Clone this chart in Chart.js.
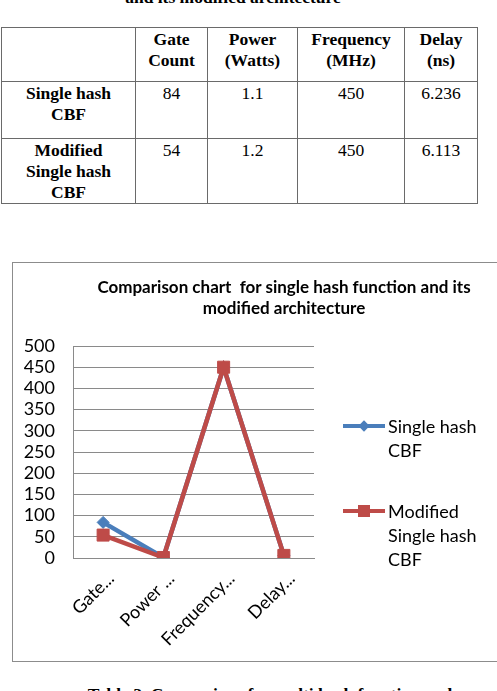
<!DOCTYPE html>
<html>
<head>
<meta charset="utf-8">
<script src="https://cdn.jsdelivr.net/npm/chart.js@4/dist/chart.umd.min.js"></script>
<style>
  html, body { margin: 0; padding: 0; background: #fff; overflow: hidden; }
  body { width: 497px; height: 691px; position: relative; font-family: "Liberation Serif", serif; }
  .caption { position: absolute; font-weight: bold; font-size: 17.5px; text-align: center; white-space: nowrap; }
  #topCaption { left: 0; width: 466px; top: -13px; }
  #bottomCaption { left: 40px; width: 460px; top: 684px; }
  #dataTable { position: absolute; left: 1px; top: 27px; width: 476px; table-layout: fixed; border-collapse: collapse; font-size: 17.5px; line-height: 21px; }
  #dataTable td, #dataTable th { border: 1.5px solid #6a6a6a; vertical-align: top; text-align: center; padding: 1px 6px 0 6px; }
  #dataTable th.rowHead { padding: 1px 11px 0 11px; }
  #dataTable th { font-weight: bold; }
  #dataTable td { font-weight: normal; }
  #chartBox { position: absolute; left: 12px; top: 262px; width: 495px; height: 400px; border: 1px solid #8c8c8c; box-sizing: border-box; }
  #chartCanvas { position: absolute; left: 12px; top: 262px; }
  #chartTitle { position: absolute; left: 89px; width: 390px; top: 276px; text-align: center; font-family: Lato, sans-serif; font-weight: bold; font-size: 17px; line-height: 21px; color: #000; }
  #legend { position: absolute; left: 343px; top: 0; font-family: Lato, sans-serif; font-size: 18px; line-height: 24px; color: #000; }
  .legItem { position: absolute; left: 0; width: 154px; }
  .legLine { position: absolute; left: 0; top: 10px; width: 42px; height: 4px; }
  .legMark { position: absolute; }
  .legText { position: absolute; left: 45px; top: 0; width: 106px; }
</style>
</head>
<body>

<div id="topCaption" class="caption">and its modified architecture</div>

<table id="dataTable"></table>

<div id="chartBox"></div>
<canvas id="chartCanvas" width="485" height="399"></canvas>
<div id="chartTitle">Comparison chart&nbsp; for single hash function and its modified architecture</div>
<div id="legend"></div>

<div id="bottomCaption" class="caption">Table 2. Comparison for multi hash function and</div>

<script>
// categories (table columns / chart x axis)
const categories = ["Gate Count", "Power (Watts)", "Frequency (MHz)", "Delay (ns)"];
const tickLabels = ["Gate...", "Power ...", "Frequency...", "Delay..."]; // truncated labels as on the x axis

// series
const seriesNames = ["Single hash CBF", "Modified Single hash CBF"];
const singleHashValues = ["84", "1.1", "450", "6.236"];
const modifiedHashValues = ["54", "1.2", "450", "6.113"];

// y axis
const yMin = 0;
const yMax = 500;
const yStep = 50;

const blue = "#4a7ebb";
const red = "#be4b48";

// ---- table above the chart ----
function buildTable() {
    const table = document.getElementById('dataTable');
    const colWidths = [134, 72, 90, 107, 73];
    const rowHeights = [54, 57, 63];

    let html = '<colgroup>';
    for (let i = 0; i < colWidths.length; i++) {
        html += '<col style="width:' + colWidths[i] + 'px">';
    }
    html += '</colgroup>';

    html += '<tr style="height:' + rowHeights[0] + 'px"><th></th>';
    for (let i = 0; i < categories.length; i++) {
        html += '<th>' + categories[i] + '</th>';
    }
    html += '</tr>';

    const rows = [singleHashValues, modifiedHashValues];
    for (let r = 0; r < rows.length; r++) {
        html += '<tr style="height:' + rowHeights[r + 1] + 'px"><th class="rowHead">' + seriesNames[r] + '</th>';
        for (let i = 0; i < rows[r].length; i++) {
            html += '<td>' + rows[r][i] + '</td>';
        }
        html += '</tr>';
    }
    table.innerHTML = html;
}

// ---- legend on the right of the plot ----
function buildLegend() {
    const legend = document.getElementById('legend');
    const tops = [414, 499];
    const colors = [blue, red];
    let html = '';
    for (let i = 0; i < seriesNames.length; i++) {
        let mark;
        if (i === 0) {
            // diamond
            mark = '<span class="legMark" style="left:17px;top:8px;width:8px;height:8px;background:' + colors[i] + ';transform:rotate(45deg)"></span>';
        } else {
            // square
            mark = '<span class="legMark" style="left:15px;top:6px;width:12px;height:12px;background:' + colors[i] + '"></span>';
        }
        html += '<div class="legItem" style="top:' + tops[i] + 'px">' +
            '<span class="legLine" style="background:' + colors[i] + '"></span>' + mark +
            '<span class="legText">' + seriesNames[i] + '</span></div>';
    }
    legend.innerHTML = html;
}

buildTable();
buildLegend();

// ---- chart ----
const ctx = document.getElementById('chartCanvas');

const comparisonChart = new Chart(ctx, {
    type: 'line',
    data: {
        labels: tickLabels,
        datasets: [
            {
                label: seriesNames[0],
                data: singleHashValues.map(Number),
                borderColor: blue,
                backgroundColor: blue,
                borderWidth: 4.5,
                tension: 0,
                pointStyle: 'rectRot',
                pointRadius: 6,
                pointBorderWidth: 1,
                pointBackgroundColor: blue,
                pointBorderColor: blue,
                order: 1
            },
            {
                label: seriesNames[1],
                data: modifiedHashValues.map(Number),
                borderColor: red,
                backgroundColor: red,
                borderWidth: 4.5,
                tension: 0,
                pointStyle: 'rect',
                pointRadius: 8.5,
                pointBorderWidth: 1,
                pointBackgroundColor: red,
                pointBorderColor: red,
                order: 0
            }
        ]
    },
    options: {
        responsive: false,
        animation: false,
        layout: {
            padding: { top: 84, right: 183, left: 0, bottom: 0 }
        },
        plugins: {
            legend: { display: false },
            title: { display: false },
            tooltip: { enabled: false }
        },
        scales: {
            x: {
                offset: true,
                grid: { display: false },
                border: { color: '#8a8a8a', width: 1 },
                ticks: {
                    autoSkip: false,
                    maxRotation: 45,
                    minRotation: 45,
                    padding: 2,
                    labelOffset: 8,
                    color: '#000',
                    font: { family: 'Lato', size: 18 }
                },
                afterFit: function (scale) { scale.height = 103; }
            },
            y: {
                min: yMin,
                max: yMax,
                grid: { color: '#8a8a8a', lineWidth: 1, drawTicks: false },
                border: { color: '#8a8a8a', width: 1 },
                ticks: {
                    autoSkip: false,
                    stepSize: yStep,
                    padding: 18,
                    color: '#000',
                    font: { family: 'Lato', size: 18, lineHeight: 1 }
                },
                afterBuildTicks: function (scale) {
                    const ticks = [];
                    for (let v = yMin; v <= yMax; v += yStep) {
                        ticks.push({ value: v });
                    }
                    scale.ticks = ticks;
                },
                afterFit: function (scale) { scale.width = 61; }
            }
        }
    }
});
</script>
</body>
</html>
